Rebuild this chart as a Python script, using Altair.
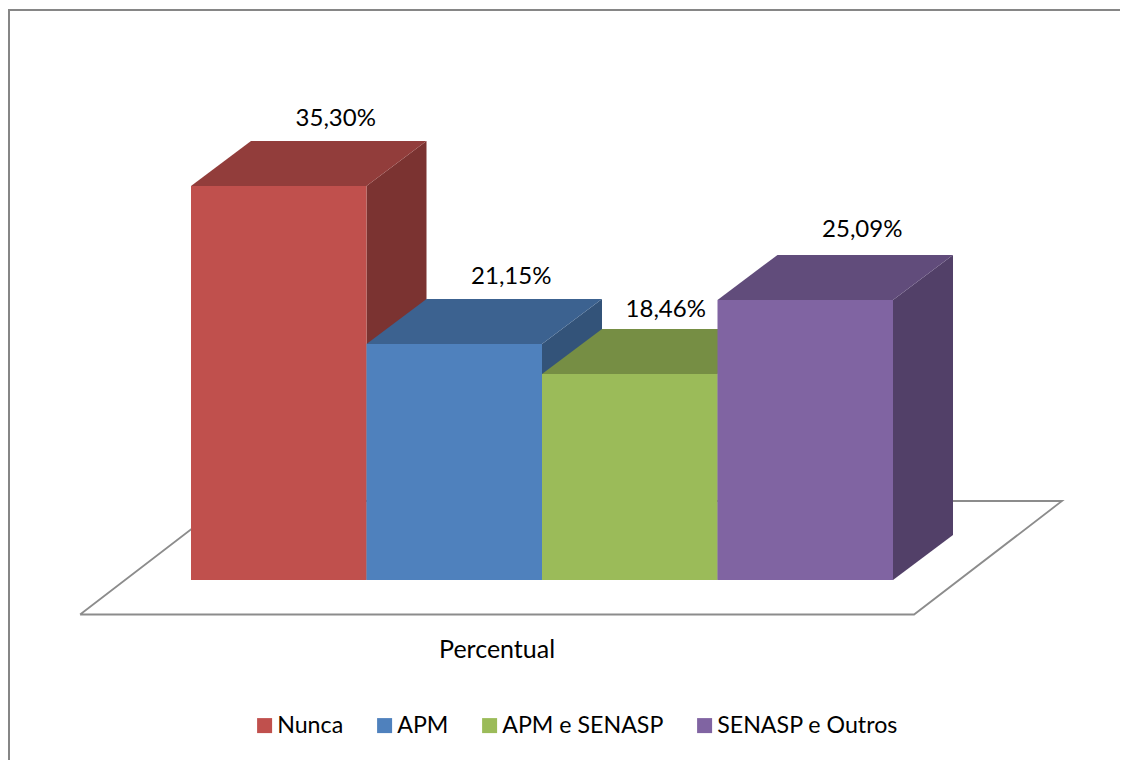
import altair as alt
import pandas as pd

categories = ["Nunca", "APM", "APM e SENASP", "SENASP e Outros"]
values = [35.30, 21.15, 18.46, 25.09]
front_colors = ["#C0504D", "#4F81BD", "#9BBB59", "#8064A2"]
top_colors = ["#923D3B", "#3C6290", "#768E44", "#614C7B"]
side_colors = ["#7B3331", "#335379", "#637939", "#524068"]

FONT = "Lato"
FS = 24
LEGEND_FS = 23.2
W, H = 1112, 752
# Scale geometry: x in bar widths, y in percent
PX_X = 175.5
PX_Y = 11.16
X0 = (8 - 191) / PX_X
X1 = X0 + W / PX_X
Y1 = (580 - 8) / PX_Y
Y0 = Y1 - H / PX_Y
DEPTH_X = 60 / PX_X
DEPTH_Y = 45 / PX_Y

xs = alt.Scale(domain=[X0, X1], range=[0, W], nice=False, zero=False)
ys = alt.Scale(domain=[Y0, Y1], range=[H, 0], nice=False, zero=False)
X = lambda f="x": alt.X(f"{f}:Q", scale=xs, axis=None)
Y = lambda f="y": alt.Y(f"{f}:Q", scale=ys, axis=None)

layers = []

# Frame
layers.append(alt.Chart(pd.DataFrame({"a": [0]})).mark_rule(color="#868686", strokeWidth=2).encode(
    x=alt.value(0), x2=alt.value(W), y=alt.value(2)))
layers.append(alt.Chart(pd.DataFrame({"a": [0]})).mark_rule(color="#868686", strokeWidth=2).encode(
    x=alt.value(1), y=alt.value(1), y2=alt.value(H)))

# Floor
fl, fr = -0.632, 4.12
fy0, fy1 = -3.09, 7.08
fdx = 4.963 - fr
floor = pd.DataFrame({
    "x": [fl, fr, fr + fdx, fl + fdx, fl],
    "y": [fy0, fy0, fy1, fy1, fy0],
    "o": range(5),
})
layers.append(alt.Chart(floor).mark_line(color="#8C8C8C", strokeWidth=1.8).encode(
    x=X(), y=Y(), order="o:Q"))

# Bars, left to right
for i, (cat, v) in enumerate(zip(categories, values)):
    a, b = float(i), float(i + 1)
    side = pd.DataFrame({
        "x": [b, b + DEPTH_X],
        "y": [0, DEPTH_Y],
        "y2": [v, v + DEPTH_Y],
    })
    top = pd.DataFrame({
        "x": [a, a + DEPTH_X, b, b + DEPTH_X],
        "y": [v, v, v, v + DEPTH_Y],
        "y2": [v, v + DEPTH_Y, v + DEPTH_Y, v + DEPTH_Y],
    })
    layers.append(alt.Chart(side).mark_area(color=side_colors[i], interpolate="linear").encode(
        x=X(), y=Y(), y2="y2:Q"))
    layers.append(alt.Chart(top).mark_area(color=top_colors[i], interpolate="linear").encode(
        x=X(), y=Y(), y2="y2:Q"))

    front = pd.DataFrame({"serie": [cat], "x": [a], "x2": [b], "y": [0.0], "y2": [v]})
    layers.append(alt.Chart(front).mark_rect().encode(
        x=X(), x2="x2:Q", y=Y(), y2="y2:Q",
        color=alt.Color("serie:N",
                        scale=alt.Scale(domain=categories, range=front_colors),
                        legend=alt.Legend(
                            title=None, orient="none", legendX=245, legendY=706,
                            direction="horizontal", columns=4, symbolType="square",
                            symbolSize=225, symbolStrokeWidth=0, symbolOpacity=1,
                            labelFont=FONT, labelFontSize=LEGEND_FS, labelColor="#000000",
                            labelOffset=1, columnPadding=29, gridAlign="none",
                            labelLimit=400, padding=0))))

# Data labels
label_dx = [57, 57, 36, 57]
label_dy = [-22, -22, -19, -25]
for i, v in enumerate(values):
    lab = pd.DataFrame({"x": [i + 0.5], "y": [v + DEPTH_Y],
                        "t": [f"{v:.2f}%".replace(".", ",")]})
    layers.append(alt.Chart(lab).mark_text(
        font=FONT, fontSize=FS, color="#000000", align="center", baseline="middle",
        dx=label_dx[i], dy=label_dy[i]).encode(x=X(), y=Y(), text="t:N"))

# Category label
cat_lab = pd.DataFrame({"x": [(fl + fr) / 2], "y": [fy0], "t": ["Percentual"]})
layers.append(alt.Chart(cat_lab).mark_text(
    font=FONT, fontSize=25, color="#000000", align="center", baseline="middle", dy=36
).encode(x=X(), y=Y(), text="t:N"))

chart = alt.layer(*layers).properties(
    width=W, height=H, padding=0,
    autosize=alt.AutoSizeParams(type="none"),
    background="#FFFFFF",
).configure_view(stroke=None)

chart.save("out.html", embed_options={"renderer": "svg", "actions": False})
